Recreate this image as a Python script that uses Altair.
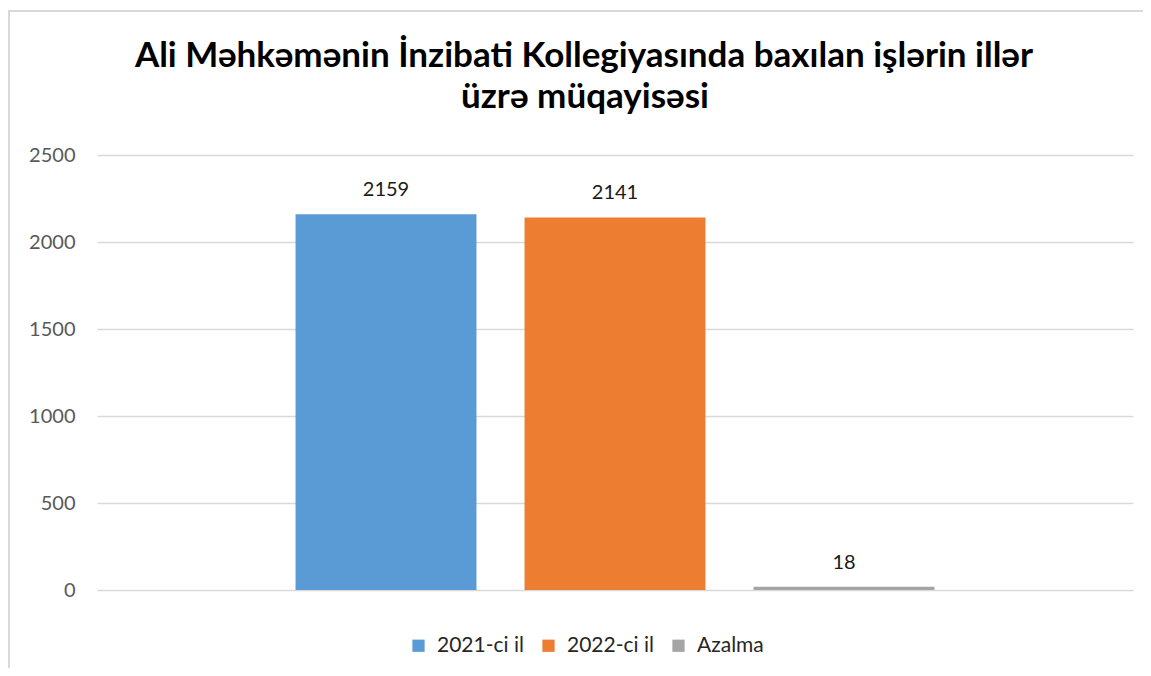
import altair as alt
import pandas as pd

series = ["2021-ci il", "2022-ci il", "Azalma"]
values = [2159, 2141, 18]
colors = ["#5B9BD5", "#ED7D31", "#A5A5A5"]
y_ticks = [0, 500, 1000, 1500, 2000, 2500]
title_lines = ["Ali Məhkəmənin İnzibati Kollegiyasında baxılan işlərin illər", "üzrə müqayisəsi"]

df = pd.DataFrame({"series": series, "value": values})
title_df = pd.DataFrame({"line": title_lines, "row": [0, 1]})

FONT = "Lato"

x_enc = alt.X("series:N", sort=series, axis=None,
              scale=alt.Scale(paddingInner=0.21, paddingOuter=0.867))

bars = alt.Chart(df).mark_bar().encode(
    x=x_enc,
    y=alt.Y("value:Q", scale=alt.Scale(domain=[0, 2500], nice=False),
            axis=alt.Axis(values=y_ticks, title=None, domain=False, ticks=False, format="d",
                          labelFontSize=20, labelColor="#595959", labelFont=FONT,
                          labelPadding=22, gridColor="#d9d9d9", gridWidth=1.5)),
    color=alt.Color("series:N", sort=series,
                    scale=alt.Scale(domain=series, range=colors),
                    legend=alt.Legend(title=None, orient="none", direction="horizontal",
                                      legendX=311, legendY=480, symbolType="square",
                                      symbolSize=150, symbolStrokeWidth=0,
                                      labelFontSize=21, labelFont=FONT, labelColor="#262626",
                                      columnPadding=14, symbolOffset=0, labelOffset=8)),
)

labels = alt.Chart(df).mark_text(baseline="bottom", dy=-14, fontSize=20, font=FONT,
                                 color="#1a1a1a").encode(
    x=x_enc,
    y=alt.Y("value:Q"),
    text=alt.Text("value:Q"),
)

title1 = alt.Chart(title_df).transform_filter("datum.row == 0").mark_text(
    fontSize=35, font=FONT, fontWeight="bold", color="#000000", baseline="alphabetic", align="center"
).encode(x=alt.value(487), y=alt.value(-88), text="line:N")

title2 = alt.Chart(title_df).transform_filter("datum.row == 1").mark_text(
    fontSize=35, font=FONT, fontWeight="bold", color="#000000", baseline="alphabetic", align="center"
).encode(x=alt.value(488), y=alt.value(-47), text="line:N")

border = alt.Chart(pd.DataFrame({"a": [0]})).mark_rect(
    fill=None, stroke="#d9d9d9", strokeWidth=2
).encode(x=alt.value(-88), x2=alt.value(1200), y=alt.value(-144), y2=alt.value(700))

chart = alt.layer(border, bars, labels, title1, title2).properties(
    width=1036, height=435,
    autosize=alt.AutoSizeParams(type="none"),
    padding={"left": 89, "top": 147, "right": 10, "bottom": 78},
).configure_view(stroke=None)

chart.save("out.html", embed_options={"renderer": "svg", "actions": False})
